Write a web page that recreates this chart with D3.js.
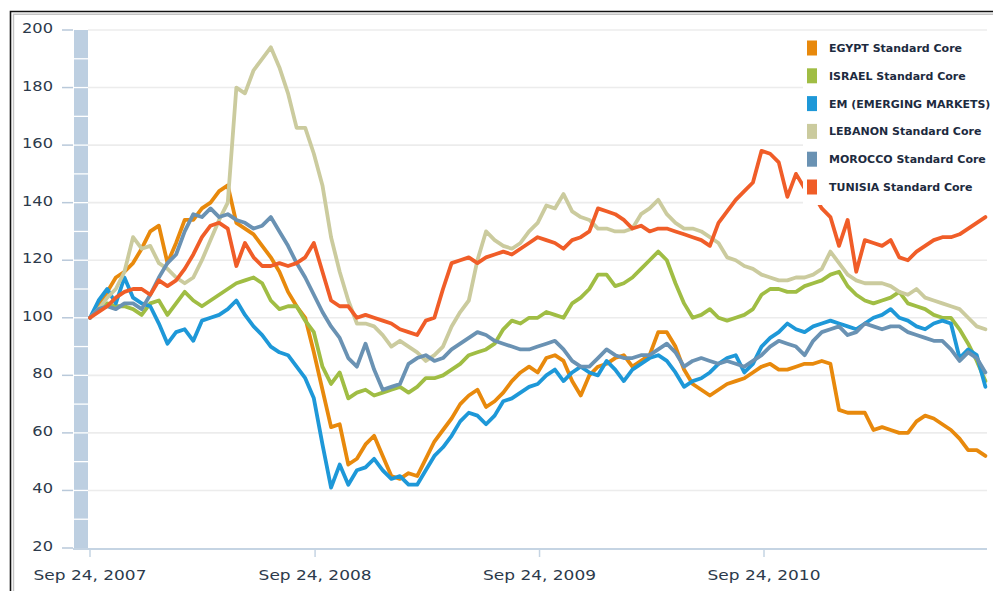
<!DOCTYPE html>
<html><head><meta charset="utf-8">
<script src="https://cdn.jsdelivr.net/npm/d3@7"></script>
<style>html,body{margin:0;padding:0;background:#fff;overflow:hidden}</style>
</head><body>
<svg id="chart" width="993" height="591"></svg>
<script>
// ---------- data ----------
const startDate = "2007-09-24";   // first observation
const stepDays = 14;              // one observation every two weeks

const seriesNames = ["EGYPT Standard Core","ISRAEL Standard Core","EM (EMERGING MARKETS)","LEBANON Standard Core","MOROCCO Standard Core","TUNISIA Standard Core"];
const seriesColors = ["#e8890c","#a0bd44","#1e98d8","#cbcb9e","#6a92b3","#f05d28"];

const egypt = [100,104,109,114,116,119,124,130,132,119,126,134,134,138,140,144,146,133,131,129,125,121,116,109,104,100,88,75,62,63,49,51,56,59,52,45,44,46,45,51,57,61,65,70,73,75,69,71,74,78,81,83,81,86,87,85,78,73,80,83,84,86,87,83,85,87,95,95,90,82,77,75,73,75,77,78,79,81,83,84,82,82,83,84,84,85,84,68,67,67,67,61,62,61,60,60,64,66,65,63,61,58,54,54,52];
const israel = [100,103,105,104,104,103,101,105,106,101,105,109,106,104,106,108,110,112,113,114,112,106,103,104,104,99,95,83,77,81,72,74,75,73,74,75,76,74,76,79,79,80,82,84,87,88,89,91,96,99,98,100,100,102,101,100,105,107,110,115,115,111,112,114,117,120,123,120,112,105,100,101,103,100,99,100,101,103,108,110,110,109,109,111,112,113,115,116,111,108,106,105,106,107,109,105,104,103,101,100,100,96,91,85,78];
const em = [100,106,110,105,114,107,105,104,98,91,95,96,92,99,100,101,103,106,101,97,94,90,88,87,83,79,72,56,41,49,42,47,48,51,47,44,45,42,42,47,52,55,59,64,67,66,63,66,71,72,74,76,77,80,82,78,81,83,81,80,85,82,78,82,84,86,87,85,81,76,78,79,81,84,86,87,81,84,90,93,95,98,96,95,97,98,99,98,97,96,98,100,101,103,100,99,97,96,98,99,98,86,89,87,76];
const lebanon = [100,103,107,110,116,128,124,125,119,117,114,112,114,120,127,134,140,180,178,186,190,194,187,178,166,166,157,146,128,116,106,98,98,97,94,90,92,90,88,85,87,90,97,102,106,120,130,127,125,124,126,130,133,139,138,143,137,135,134,131,131,130,130,131,136,138,141,136,133,131,131,130,128,126,121,120,118,117,115,114,113,113,114,114,115,117,123,119,115,113,112,112,112,111,109,108,110,107,106,105,104,103,100,97,96];
const morocco = [100,103,104,103,105,105,103,108,114,119,122,130,136,135,138,135,136,134,133,131,132,135,130,125,119,114,108,102,97,93,86,83,91,82,75,76,77,84,86,87,85,86,89,91,93,95,94,92,91,90,89,89,90,91,92,89,85,83,83,86,89,87,86,86,87,87,89,91,88,83,85,86,85,84,85,84,83,85,87,90,92,91,90,87,92,95,96,97,94,95,98,97,96,97,97,95,94,93,92,92,89,85,88,86,81];
const tunisia = [100,102,104,107,109,110,110,108,113,111,113,117,122,128,132,133,131,118,126,121,118,118,119,118,119,121,126,116,106,104,104,100,101,100,99,98,96,95,94,99,100,110,119,120,121,119,121,122,123,122,124,126,128,127,126,124,127,128,130,138,137,136,134,131,132,130,131,131,130,129,128,127,125,133,137,141,144,147,158,157,154,142,150,145,143,138,135,125,134,116,127,126,125,127,121,120,123,125,127,128,128,129,131,133,135];
const seriesValues = [egypt, israel, em, lebanon, morocco, tunisia];

const yTickValues = [20,40,60,80,100,120,140,160,180,200];
const xTickDates = ["2007-09-24","2008-09-24","2009-09-24","2010-09-24"];
const xTickLabels = ["Sep 24, 2007","Sep 24, 2008","Sep 24, 2009","Sep 24, 2010"];

// ---------- drawing ----------
const svg = d3.select("#chart");
const parse = d3.utcParse("%Y-%m-%d");
const t0 = parse(startDate);

const x = d3.scaleUtc().domain([parse(xTickDates[0]), parse(xTickDates[3])]).range([90, 764]);
const y = d3.scaleLinear().domain([20, 200]).range([548, 30]);

const axisFont = "'DejaVu Sans', Verdana, sans-serif";
const textColor = "#2c3a4b";

// frame
svg.append("path").attr("d","M10.5,591 V11.5 H993").attr("fill","none").attr("stroke","#111").attr("stroke-width",1.6);
svg.append("path").attr("d","M13.5,591 V14.2 H993").attr("fill","none").attr("stroke","#c4c4c4").attr("stroke-width",1.4);

// gridlines
svg.append("g").selectAll("line").data(yTickValues.filter(v => v > 20)).join("line")
  .attr("x1", 88).attr("x2", 987)
  .attr("y1", d => y(d)).attr("y2", d => y(d))
  .attr("stroke", "#ececec").attr("stroke-width", 1.6);

// left band
const bandG = svg.append("g");
bandG.append("rect").attr("x", 74).attr("y", y(200)).attr("width", 14).attr("height", y(20) - y(200)).attr("fill", "#bdcfe1");
bandG.selectAll("line").data(d3.range(30, 200, 10)).join("line")
  .attr("x1", 74).attr("x2", 88).attr("y1", d => y(d)).attr("y2", d => y(d))
  .attr("stroke", "#fff").attr("stroke-width", 1.3);

// y ticks + labels
const yAxis = svg.append("g");
yAxis.selectAll("line").data(yTickValues).join("line")
  .attr("x1", 62).attr("x2", 73).attr("y1", d => y(d)).attr("y2", d => y(d))
  .attr("stroke", "#b9c9da").attr("stroke-width", 1.5);
const yLabels = yAxis.selectAll("text").data(yTickValues).join("text")
  .attr("x", 53).attr("y", d => y(d) + 3)
  .attr("text-anchor", "end")
  .attr("font-family", axisFont).attr("font-size", 14.5)
  .attr("fill", textColor).text(d => d);

// x axis
const xAxis = svg.append("g");
xAxis.append("line").attr("x1", 73).attr("x2", 987).attr("y1", 549).attr("y2", 549)
  .attr("stroke", "#c5d4e3").attr("stroke-width", 2);
xAxis.selectAll("line.tick").data(xTickDates).join("line").attr("class","tick")
  .attr("x1", d => x(parse(d))).attr("x2", d => x(parse(d)))
  .attr("y1", 549).attr("y2", 557).attr("stroke", "#c5d4e3").attr("stroke-width", 1.5);
const xLabels = xAxis.selectAll("text").data(xTickDates).join("text")
  .attr("x", d => x(parse(d))).attr("y", 580)
  .attr("text-anchor", "middle")
  .attr("font-family", axisFont).attr("font-size", 14.5)
  .attr("fill", textColor).text((d, i) => xTickLabels[i]);

// horizontal stretch of axis labels like the reference
function stretch(sel, f) {
  sel.each(function() {
    const w = this.getComputedTextLength();
    d3.select(this).attr("textLength", w * f).attr("lengthAdjust", "spacingAndGlyphs");
  });
}
stretch(yLabels, 1.12);
stretch(xLabels, 1.17);

// lines
const line = d3.line()
  .x((d, i) => x(d3.utcDay.offset(t0, i * stepDays)))
  .y(d => y(d));
svg.append("g").selectAll("path").data(seriesValues).join("path")
  .attr("d", d => line(d))
  .attr("fill", "none")
  .attr("stroke", (d, i) => seriesColors[i])
  .attr("stroke-width", 3.8)
  .attr("stroke-linejoin", "round")
  .attr("stroke-linecap", "round");

// legend
const lg = svg.append("g");
lg.append("rect").attr("x", 803).attr("y", 33).attr("width", 190).attr("height", 172).attr("fill", "#fff");
const items = lg.selectAll("g").data(seriesNames).join("g")
  .attr("transform", (d, i) => `translate(0,${48 + i * 27.8})`);
items.append("rect").attr("x", 807).attr("y", -7.5).attr("width", 10).attr("height", 15)
  .attr("fill", (d, i) => seriesColors[i]);
items.append("text").attr("x", 829).attr("y", 4)
  .attr("font-family", axisFont).attr("font-weight", "bold").attr("font-size", 11)
  .attr("fill", "#1d2b40").text(d => d);
</script>
</body></html>
